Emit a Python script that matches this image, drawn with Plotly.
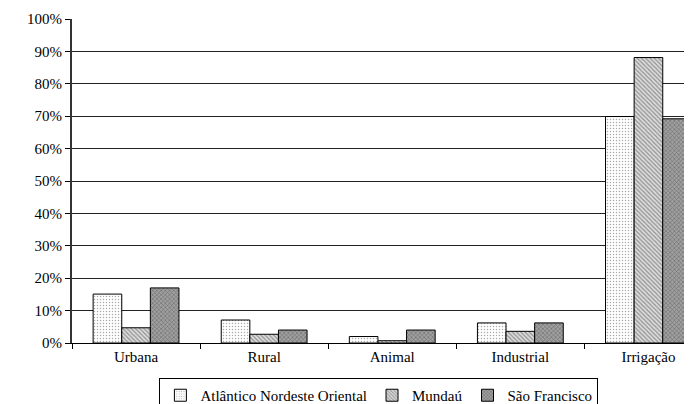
import plotly.graph_objects as go

categories = ["Urbana", "Rural", "Animal", "Industrial", "Irrigação"]
series_names = ["Atlântico Nordeste Oriental", "Mundaú", "São Francisco"]
atlantico = [0.151, 0.071, 0.020, 0.062, 0.699]
mundau = [0.047, 0.027, 0.007, 0.036, 0.881]
sao_francisco = [0.170, 0.040, 0.040, 0.062, 0.692]

styles = [
    dict(shape=".", fgcolor="#555555", bgcolor="white", size=3, solidity=0.2),
    dict(shape="\\", fgcolor="#444444", bgcolor="#dddddd", size=3, solidity=0.4),
    dict(shape="x", fgcolor="#333333", bgcolor="#a0a0a0", size=3, solidity=0.35),
]

fig = go.Figure()
for name, vals, st in zip(series_names, [atlantico, mundau, sao_francisco], styles):
    fig.add_trace(go.Bar(
        name=name, x=categories, y=vals,
        marker=dict(color=st["bgcolor"], line=dict(color="black", width=1),
                    pattern=dict(shape=st["shape"], fgcolor=st["fgcolor"],
                                 bgcolor=st["bgcolor"], size=st["size"],
                                 solidity=st["solidity"], fillmode="overlay")),
    ))

font = dict(family="Liberation Serif, Times New Roman, serif", size=15, color="black")
fig.update_layout(
    width=684, height=396,
    margin=dict(l=64, r=0, t=11, b=61, autoexpand=False),
    paper_bgcolor="white", plot_bgcolor="white",
    barmode="group", bargap=0.33, bargroupgap=0,
    font=font,
    showlegend=True,
    legend=dict(orientation="h", x=0.495, xanchor="center", y=-0.108, yanchor="top",
                bordercolor="black", borderwidth=1, font=font,
                itemwidth=30, tracegroupgap=0),
    xaxis=dict(range=[-0.5, 4.34], tickson="boundaries", ticks="outside", ticklen=5,
               tickcolor="black", showline=True, linecolor="black", linewidth=1,
               showgrid=False, tickfont=font, automargin=False),
    yaxis=dict(range=[0, 1], dtick=0.1, tickformat=".0%", ticks="outside", ticklen=5,
               tickcolor="black", showline=True, linecolor="#333333", linewidth=2,
               showgrid=True, gridcolor="#222222", gridwidth=1, zeroline=False,
               tickfont=font, automargin=False),
)

fig.write_html("out.html")
